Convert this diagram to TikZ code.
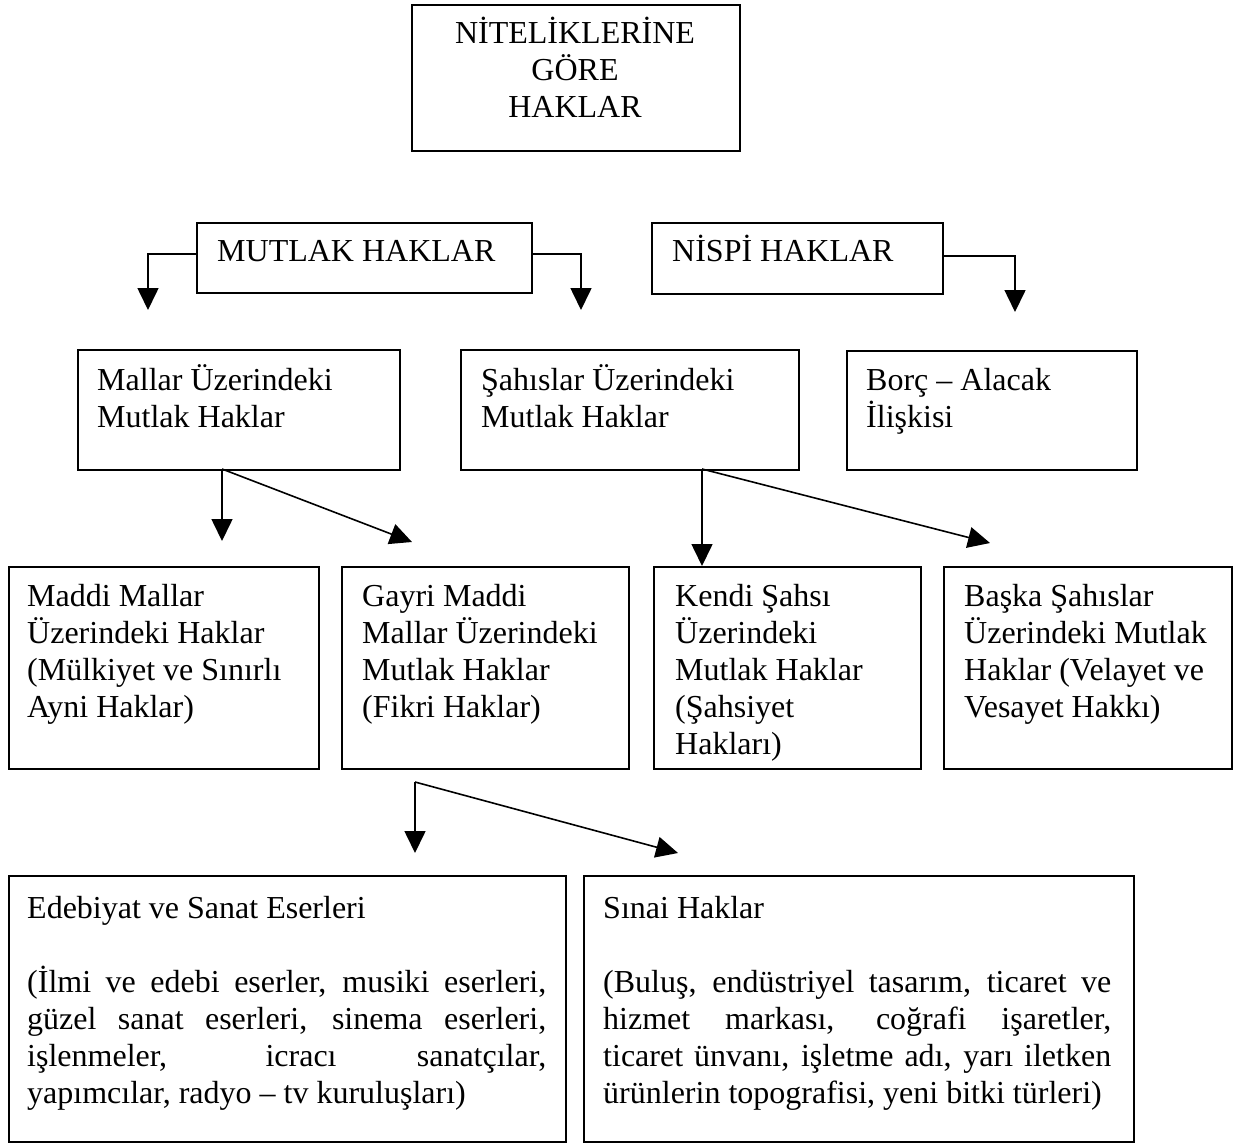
\documentclass[tikz,border=0pt]{standalone}
\usepackage{fontspec}
\setmainfont{Liberation Serif}
\usetikzlibrary{arrows.meta}
\newcommand\Lft[1]{\vtop{\baselineskip=37pt\lineskip=0pt\lineskiplimit=-100pt\halign{##\hfil\cr#1\crcr}}}
\newcommand\Ctr[1]{\vtop{\baselineskip=37pt\lineskip=0pt\lineskiplimit=-100pt\halign{\hfil##\hfil\cr#1\crcr}}}
\newcommand\JA[1]{\makebox[519pt][s]{#1}}
\newcommand\JB[1]{\makebox[508pt][s]{#1}}
\tikzset{
  box/.style={draw, line width=1.5pt, inner sep=0pt, anchor=north west},
  txt/.style={inner sep=0pt, font=\fontsize{32}{37}\selectfont},
  arr/.style={line width=1.6pt, -{Triangle[length=22pt,width=21pt]}},
}
\begin{document}
\begin{tikzpicture}[x=1pt,y=-1pt]
\useasboundingbox (0,0) rectangle (1238,1143);
% boxes
\node[box, minimum width=328pt, minimum height=146pt] (top) at (411,4) {};
\node[box, minimum width=335pt, minimum height=70pt] (mutlak) at (196,222) {};
\node[box, minimum width=291pt, minimum height=71pt] (nispi) at (651,222) {};
\node[box, minimum width=322pt, minimum height=120pt] (mallar) at (77,349) {};
\node[box, minimum width=338pt, minimum height=120pt] (sahis) at (460,349) {};
\node[box, minimum width=290pt, minimum height=119pt] (borc) at (846,350) {};
\node[box, minimum width=310pt, minimum height=202pt] (maddi) at (8,566) {};
\node[box, minimum width=287pt, minimum height=202pt] (gayri) at (341,566) {};
\node[box, minimum width=267pt, minimum height=202pt] (kendi) at (653,566) {};
\node[box, minimum width=288pt, minimum height=202pt] (baska) at (943,566) {};
\node[box, minimum width=557pt, minimum height=266pt] (edeb) at (8,875) {};
\node[box, minimum width=550pt, minimum height=266pt] (sinai) at (583,875) {};
% texts
\node[txt, anchor=base] (topT) at (575,43) {\Ctr{NİTELİKLERİNE\cr GÖRE\cr HAKLAR}};
\node[txt, anchor=base west] (mutlakT) at (217,261) {MUTLAK HAKLAR};
\node[txt, anchor=base west] (nispiT) at (672,261) {NİSPİ HAKLAR};
\node[txt, anchor=base west] (mallarT) at (97,390) {\Lft{Mallar Üzerindeki\cr Mutlak Haklar}};
\node[txt, anchor=base west] (sahisT) at (481,390) {\Lft{Şahıslar Üzerindeki\cr Mutlak Haklar}};
\node[txt, anchor=base west] (borcT) at (866,390) {\Lft{Borç – Alacak\cr İlişkisi}};
\node[txt, anchor=base west] (maddiT) at (27,606) {\Lft{Maddi Mallar\cr Üzerindeki Haklar\cr (Mülkiyet ve Sınırlı\cr Ayni Haklar)}};
\node[txt, anchor=base west] (gayriT) at (362,606) {\Lft{Gayri Maddi\cr Mallar Üzerindeki\cr Mutlak Haklar\cr (Fikri Haklar)}};
\node[txt, anchor=base west] (kendiT) at (675,606) {\Lft{Kendi Şahsı\cr Üzerindeki\cr Mutlak Haklar\cr (Şahsiyet\cr Hakları)}};
\node[txt, anchor=base west] (baskaT) at (964,606) {\Lft{Başka Şahıslar\cr Üzerindeki Mutlak\cr Haklar (Velayet ve\cr Vesayet Hakkı)}};
\node[txt, anchor=base west] (edebT) at (27,918) {\Lft{Edebiyat ve Sanat Eserleri\cr\cr
  \JA{(İlmi ve edebi eserler, musiki eserleri,}\cr
  \JA{güzel sanat eserleri, sinema eserleri,}\cr
  \JA{işlenmeler, icracı sanatçılar,}\cr
  yapımcılar, radyo – tv kuruluşları)}};
\node[txt, anchor=base west] (sinaiT) at (603,918) {\Lft{Sınai Haklar\cr\cr
  \JB{(Buluş, endüstriyel tasarım, ticaret ve}\cr
  \JB{hizmet markası, coğrafi işaretler,}\cr
  \JB{ticaret ünvanı, işletme adı, yarı iletken}\cr
  ürünlerin topografisi, yeni bitki türleri)}};
% connector coordinates
\coordinate (a1) at (148,310);
\coordinate (a2) at (581,310);
\coordinate (a3) at (1015,312);
\coordinate (m0) at (222,469);
\coordinate (m1) at (222,541);
\coordinate (m2) at (412,542);
\coordinate (s0) at (702,469);
\coordinate (s1) at (702,566);
\coordinate (s2) at (990,543);
\coordinate (g0) at (415,782);
\coordinate (g1) at (415,853);
\coordinate (g2) at (678,853);
% connectors
\draw[arr] (mutlak.west) ++(0,-4) -| (a1);
\draw[arr] (mutlak.east) ++(0,-4) -| (a2);
\draw[arr] (nispi.east) ++(0,-2) -| (a3);
\draw[arr] (m0) -- (m1);
\draw[arr] (m0) -- (m2);
\draw[arr] (s0) -- (s1);
\draw[arr] (s0) -- (s2);
\draw[arr] (g0) -- (g1);
\draw[arr] (g0) -- (g2);
\end{tikzpicture}
\end{document}
